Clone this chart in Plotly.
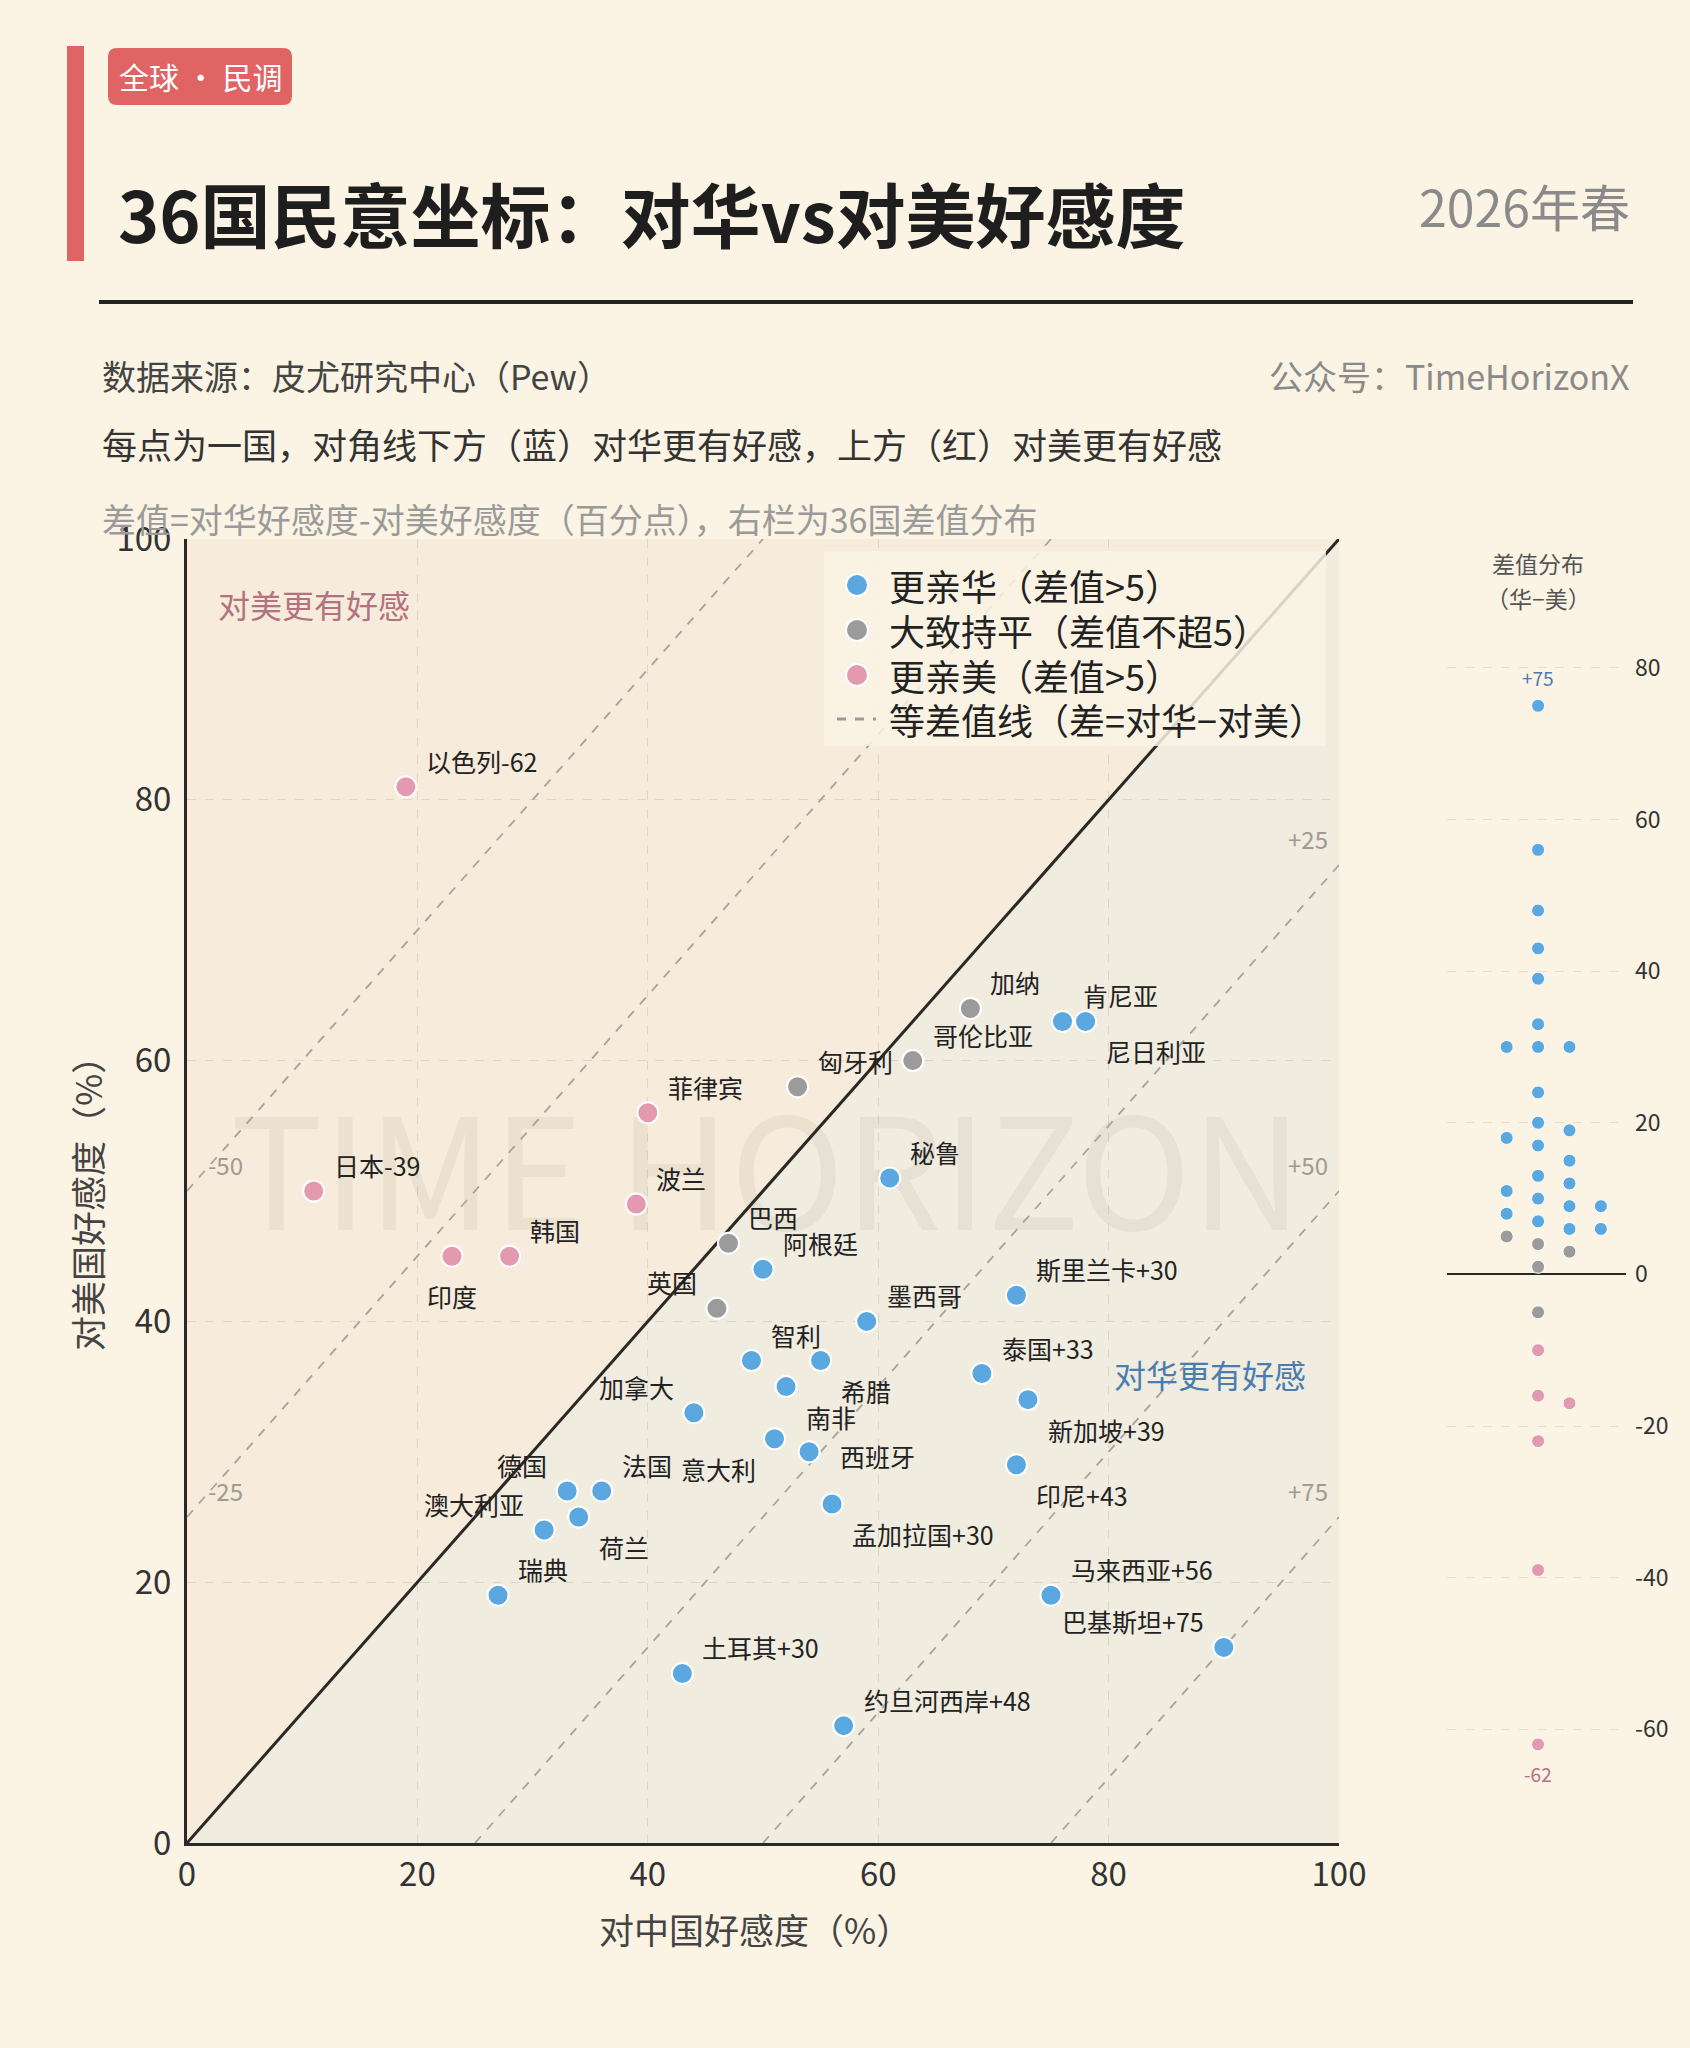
import plotly.graph_objects as go

# ---------------- data ----------------
countries = ["以色列", "日本", "印度", "韩国", "菲律宾", "波兰", "匈牙利", "巴西", "哥伦比亚", "加纳", "英国",
             "阿根廷", "德国", "澳大利亚", "瑞典", "法国", "荷兰", "秘鲁", "加拿大", "智利", "肯尼亚", "尼日利亚",
             "南非", "希腊", "墨西哥", "意大利", "西班牙", "斯里兰卡", "孟加拉国", "土耳其", "泰国", "新加坡",
             "印尼", "约旦河西岸", "马来西亚", "巴基斯坦"]
china_fav = [19, 11, 23, 28, 40, 39, 53, 47, 63, 68, 46,
             50, 33, 31, 27, 36, 34, 61, 44, 49, 76, 78,
             52, 55, 59, 51, 54, 72, 56, 43, 69, 73,
             72, 57, 75, 90]
us_fav = [81, 50, 45, 45, 56, 49, 58, 46, 60, 64, 41,
          44, 27, 24, 19, 27, 25, 51, 33, 37, 63, 63,
          35, 37, 40, 31, 30, 42, 26, 13, 36, 34,
          29, 9, 19, 15]
iso_diffs = [-50, -25, 25, 50, 75]
axis_ticks = [0, 20, 40, 60, 80, 100]
strip_ticks = [-60, -40, -20, 0, 20, 40, 60, 80]
cat_names = ["更亲华（差值>5）", "大致持平（差值不超5）", "更亲美（差值>5）"]
iso_name = "等差值线（差=对华−对美）"

# label placement (style): ur=upper-right, ul=upper-left, lr=lower-right, ll=lower-left, b=below, r=right
LABEL_POS = {
    "以色列": "ur", "日本": "ur", "印度": "b", "韩国": "ur", "菲律宾": "ur", "波兰": "ur", "匈牙利": "ur",
    "巴西": "ur", "哥伦比亚": "ur", "加纳": "ur", "英国": "ul", "阿根廷": "ur", "德国": "ul", "澳大利亚": "ul",
    "瑞典": "ur", "法国": "ur", "荷兰": "lr", "秘鲁": "ur", "加拿大": "ul", "智利": "ur", "肯尼亚": "ur",
    "尼日利亚": "lr", "南非": "lr", "希腊": "lr", "墨西哥": "ur", "意大利": "ll", "西班牙": "r",
    "斯里兰卡": "ur", "孟加拉国": "lr", "土耳其": "ur", "泰国": "ur", "新加坡": "lr", "印尼": "lr",
    "约旦河西岸": "ur", "马来西亚": "ur", "巴基斯坦": "ul",
}
OFFSETS = {"ur": (18, 26, "left"), "ul": (-18, 26, "right"), "lr": (18, -30, "left"),
           "ll": (-17, -30, "right"), "b": (0, -40, "center"), "r": (29, -4, "left")}

# ---------------- style ----------------
W, H = 1690, 2048
FONT = "Noto Sans CJK SC, Noto Sans, sans-serif"
PAGE_BG = "#FBF3E3"
UPPER_BG = "#F7EBDB"
LOWER_BG = "#F0ECE0"
BLUE = "#5AA8DF"
GRAY = "#9B9B9B"
PINK = "#E39AB0"
CAT_COLORS = [BLUE, GRAY, PINK]
RED = "#E06464"
DARK = "#2B2825"
ISO_COLOR = "#A8A29A"


def px(x):
    return x / W


def py(y):
    return 1 - y / H


X_DOM = [px(187), px(1339)]
Y_DOM = [py(1843), py(539)]
X2_DOM = [px(1447), px(1626)]

diffs = [c - u for c, u in zip(china_fav, us_fav)]


def cat_of(d):
    if d > 5:
        return 0
    if d < -5:
        return 2
    return 1


cats = [cat_of(d) for d in diffs]

fig = go.Figure()

# watermark (bottom-most trace)
fig.add_trace(go.Scatter(x=[50.3], y=[50], mode="text", text=["TIME HORIZON"],
                         textfont=dict(size=154, color="rgba(110,95,70,0.075)", family=FONT),
                         showlegend=False, hoverinfo="skip"))

# iso-difference lines
lx, ly = [], []
for d in iso_diffs:
    if d > 0:
        lx += [d, 100, None]
        ly += [0, 100 - d, None]
    else:
        lx += [0, 100 + d, None]
        ly += [-d, 100, None]
fig.add_trace(go.Scatter(x=lx, y=ly, mode="lines", name=iso_name, showlegend=False,
                         line=dict(color=ISO_COLOR, width=1.8, dash="dash"), hoverinfo="skip"))

# scatter points per category
for k in range(3):
    idx = [i for i in range(len(countries)) if cats[i] == k]
    fig.add_trace(go.Scatter(
        x=[china_fav[i] for i in idx], y=[us_fav[i] for i in idx],
        mode="markers", name=cat_names[k], showlegend=False,
        text=[countries[i] for i in idx],
        marker=dict(size=21, color=CAT_COLORS[k], line=dict(color="white", width=2)),
        cliponaxis=False,
    ))

# beeswarm strip of differences
col_order = [0, 1, -1, 2, -2, 3, -3]
placed = {}
cols = [0] * len(diffs)
for i in sorted(range(len(diffs)), key=lambda j: -diffs[j]):
    for c in col_order:
        if all(abs(diffs[i] - v) >= 3 for v in placed.get(c, [])):
            placed.setdefault(c, []).append(diffs[i])
            cols[i] = c
            break
for k in range(3):
    idx = [i for i in range(len(diffs)) if cats[i] == k]
    fig.add_trace(go.Scatter(
        x=[cols[i] for i in idx], y=[diffs[i] for i in idx], xaxis="x2", yaxis="y2",
        mode="markers", showlegend=False, text=[countries[i] for i in idx],
        marker=dict(size=13, color=CAT_COLORS[k], line=dict(color="white", width=1)),
        cliponaxis=False,
    ))

annotations = []


def ann(x, y, text, size, color, xanchor="center", yanchor="middle", xref="paper", yref="paper", **kw):
    annotations.append(dict(x=x, y=y, xref=xref, yref=yref, text=text, showarrow=False,
                            xanchor=xanchor, yanchor=yanchor,
                            font=dict(size=size, color=color, family=FONT), **kw))


# point labels
for i, name in enumerate(countries):
    d = diffs[i]
    label = name + (("+%d" % d if d > 0 else "%d" % d) if abs(d) >= 30 else "")
    dx, dy, anc = OFFSETS[LABEL_POS[name]]
    ann(china_fav[i], us_fav[i], label, 25, "#222222", xanchor=anc, xref="x", yref="y",
        xshift=dx, yshift=dy)

# iso labels
for d in iso_diffs:
    if d < 0:
        ann(3.3, -d + 2, str(d), 24, "#A09A92", xref="x", yref="y")
    else:
        ann(97.3, 100 - d + 2, "+%d" % d, 24, "#A09A92", xref="x", yref="y")

# region labels
ann(11, 95, "对美更有好感", 32, "#B27280", xref="x", yref="y")
ann(88.8, 36, "对华更有好感", 32, "#4A7DAD", xref="x", yref="y")

# axis titles
ann(px(755), py(1928), "对中国好感度（%）", 35, "#444444")
ann(px(86), py(1195), "对美国好感度（%）", 35, "#444444", textangle=-90)

# header
ann(px(200), py(76), "全球 · 民调", 30, "white")
ann(px(116), py(212), "<b>36国民意坐标：对华vs对美好感度</b>", 70, "#1E1E1E", xanchor="left")
ann(px(1632), py(205), "2026年春", 50, "#8A8A8A", xanchor="right")
ann(px(100), py(375), "数据来源：皮尤研究中心（Pew）", 34, "#444444", xanchor="left")
ann(px(1632), py(375), "公众号：TimeHorizonX", 34, "#8A8A8A", xanchor="right")
ann(px(100), py(443), "每点为一国，对角线下方（蓝）对华更有好感，上方（红）对美更有好感", 35, "#333333",
    xanchor="left")
ann(px(100), py(518), "差值=对华好感度-对美好感度（百分点），右栏为36国差值分布", 34, "#9A9A9A",
    xanchor="left")

# strip header + extreme labels
ann(px(1538), py(563), "差值分布", 23, "#555555")
ann(px(1538), py(598), "（华−美）", 23, "#555555")
imax = max(range(len(diffs)), key=lambda j: diffs[j])
imin = min(range(len(diffs)), key=lambda j: diffs[j])
ann(cols[imax], diffs[imax], "+%d" % diffs[imax], 19, "#4A7DAD", xref="x2", yref="y2", yshift=28)
ann(cols[imin], diffs[imin], "%d" % diffs[imin], 19, "#B27280", xref="x2", yref="y2", yshift=-29)

# legend (drawn as layout items)
LEG_ROWS = [585, 630, 675, 719]
for k in range(3):
    ann(px(887), py(LEG_ROWS[k]), cat_names[k], 36, "#222222", xanchor="left")
ann(px(887), py(LEG_ROWS[3]), iso_name, 36, "#222222", xanchor="left")


def rr_path(x0, y0, x1, y1, r):
    rx, ry = r / W, r / H
    X0, X1 = px(x0), px(x1)
    Y0, Y1 = py(y0), py(y1)
    return (f"M {X0+rx},{Y0} L {X1-rx},{Y0} Q {X1},{Y0} {X1},{Y0-ry} L {X1},{Y1+ry} "
            f"Q {X1},{Y1} {X1-rx},{Y1} L {X0+rx},{Y1} Q {X0},{Y1} {X0},{Y1+ry} L {X0},{Y0-ry} "
            f"Q {X0},{Y0} {X0+rx},{Y0} Z")


shapes = [
    # background triangles
    dict(type="path", xref="x", yref="y", path="M 0,0 L 0,100 L 100,100 Z", fillcolor=UPPER_BG,
         line=dict(width=0), layer="below"),
    dict(type="path", xref="x", yref="y", path="M 0,0 L 100,0 L 100,100 Z", fillcolor=LOWER_BG,
         line=dict(width=0), layer="below"),
    # diagonal
    dict(type="line", xref="x", yref="y", x0=0, y0=0, x1=100, y1=100, line=dict(color=DARK, width=3),
         layer="between"),
    # header decorations
    dict(type="rect", xref="paper", yref="paper", x0=px(67), x1=px(84), y0=py(261), y1=py(46),
         fillcolor=RED, line=dict(width=0)),
    dict(type="path", xref="paper", yref="paper", path=rr_path(108, 48, 292, 105, 9),
         fillcolor=RED, line=dict(width=0)),
    dict(type="line", xref="paper", yref="paper", x0=px(99), x1=px(1633), y0=py(302), y1=py(302),
         line=dict(color="#222222", width=4)),
    # legend box
    dict(type="rect", xref="paper", yref="paper", x0=px(824), x1=px(1326), y0=py(746), y1=py(551),
         fillcolor="rgba(250,244,230,0.84)", line=dict(width=0), layer="above"),
]
# legend symbols
r = 11
for k in range(3):
    cy = LEG_ROWS[k]
    shapes.append(dict(type="circle", xref="paper", yref="paper",
                       x0=px(857 - r), x1=px(857 + r), y0=py(cy + r), y1=py(cy - r),
                       fillcolor=CAT_COLORS[k], line=dict(color="white", width=2), layer="above"))
shapes.append(dict(type="line", xref="paper", yref="paper", x0=px(837), x1=px(876),
                   y0=py(LEG_ROWS[3]), y1=py(LEG_ROWS[3]),
                   line=dict(color="#9A9A9A", width=3, dash="dash"), layer="above"))

fig.update_layout(
    width=W, height=H,
    margin=dict(l=0, r=0, t=0, b=0, autoexpand=False),
    paper_bgcolor=PAGE_BG,
    plot_bgcolor=PAGE_BG,
    font=dict(family=FONT, color="#333333"),
    showlegend=False,
    xaxis=dict(domain=X_DOM, range=[0, 100], tickvals=axis_ticks, showgrid=True,
               gridcolor="rgba(170,155,135,0.28)", griddash="dash", gridwidth=1,
               showline=True, linecolor=DARK, linewidth=3, zeroline=False, ticks="",
               tickfont=dict(size=33, color="#333333"), anchor="y"),
    yaxis=dict(domain=Y_DOM, range=[0, 100], tickvals=axis_ticks, showgrid=True,
               gridcolor="rgba(170,155,135,0.28)", griddash="dash", gridwidth=1,
               showline=True, linecolor=DARK, linewidth=3, zeroline=False, ticks="",
               ticklabelstandoff=6, tickfont=dict(size=33, color="#333333"), anchor="x"),
    xaxis2=dict(domain=X2_DOM, range=[-2.9, 2.8], visible=False, anchor="y2"),
    yaxis2=dict(domain=Y_DOM, range=[-75, 97], tickvals=strip_ticks,
                ticktext=[str(t) for t in strip_ticks], side="right", anchor="x2",
                showgrid=True, gridcolor="rgba(170,155,135,0.25)", griddash="dash", gridwidth=1,
                zeroline=True, zerolinecolor=DARK, zerolinewidth=2, showline=False, ticks="",
                ticklabelstandoff=8, tickfont=dict(size=23, color="#333333")),
    annotations=annotations,
    shapes=shapes,
)

fig.write_html(
    "out.html",
    config={"displayModeBar": False},
    post_script="document.body.style.margin='0px';document.body.style.overflow='hidden';"
                "document.documentElement.style.background='%s';" % PAGE_BG,
)
